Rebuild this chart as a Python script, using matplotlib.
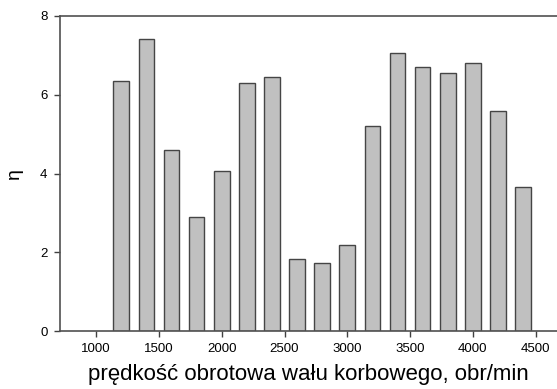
import matplotlib
matplotlib.use("Agg")
import matplotlib.pyplot as plt

rpm = [1200, 1400, 1600, 1800, 2000, 2200, 2400, 2600, 2800, 3000,
       3200, 3400, 3600, 3800, 4000, 4200, 4400]
eta = [6.35, 7.42, 4.6, 2.9, 4.06, 6.3, 6.45, 1.83, 1.73, 2.18,
       5.2, 7.05, 6.7, 6.54, 6.8, 5.59, 3.66]
xticks = [1000, 1500, 2000, 2500, 3000, 3500, 4000, 4500]
yticks = [0, 2, 4, 6, 8]

plt.rcParams['font.family'] = ['Liberation Sans', 'DejaVu Sans']

fig = plt.figure(figsize=(5.57, 3.89), dpi=100)
ax = fig.add_axes([60/557, 58/389, 497/557, 315/389])
ax.bar(rpm, eta, width=125, color='#c0c0c0', edgecolor='#454545', linewidth=1.0)
ax.set_xlim(712, 4670)
ax.set_ylim(0, 8)
ax.set_xticks(xticks)
ax.set_yticks(yticks)
ax.tick_params(axis='both', labelsize=9.5, length=4, width=1, color='#404040', pad=5)
for s in ['left', 'bottom', 'top']:
    ax.spines[s].set_color('#505050')
    ax.spines[s].set_linewidth(1.2)
ax.spines['right'].set_visible(False)
ax.set_xlabel('prędkość obrotowa wału korbowego, obr/min', fontsize=16, labelpad=6)
ax.set_ylabel('η', fontsize=14, labelpad=12)
fig.savefig('out.png', dpi=100)
